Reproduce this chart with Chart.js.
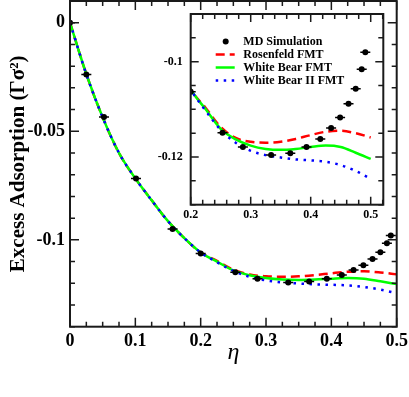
<!DOCTYPE html>
<html><head><meta charset="utf-8">
<script src="https://cdn.jsdelivr.net/npm/chart.js@4"></script>
<style>
html,body{margin:0;padding:0;background:#fff;}
#wrap{position:relative;width:409px;height:397px;overflow:hidden;}
canvas{position:absolute;left:0;top:0;}
</style></head><body>
<div id="wrap"><canvas id="main" width="409" height="397"></canvas><canvas id="inset" width="409" height="397"></canvas></div>
<script>
// ---------------- data ----------------
const etaMD = [0, 0.025, 0.052, 0.101, 0.157, 0.2, 0.253, 0.287, 0.334, 0.366, 0.393, 0.416, 0.434, 0.449, 0.463, 0.475, 0.485, 0.491];
const adsMD = [0, -0.0239, -0.0434, -0.0717, -0.0950, -0.1063, -0.1149, -0.1179, -0.1196, -0.1192, -0.1179, -0.1162, -0.1139, -0.1117, -0.1088, -0.1057, -0.1016, -0.0980];

const etaCurve = [0, 0.025, 0.05, 0.075, 0.1, 0.125, 0.15, 0.175, 0.2, 0.225, 0.25, 0.275, 0.3, 0.325, 0.35, 0.375, 0.4, 0.425, 0.45, 0.475, 0.5];
const rosenfeld = [0, -0.0237, -0.0436, -0.0600, -0.0717, -0.0818, -0.0914, -0.0992, -0.1058, -0.1097, -0.1137, -0.1160, -0.1168, -0.1170, -0.1168, -0.1162, -0.1154, -0.1147, -0.1145, -0.1150, -0.1159];
const whiteBear = [0, -0.0237, -0.0436, -0.0600, -0.0717, -0.0818, -0.0914, -0.0992, -0.1058, -0.1100, -0.1141, -0.1163, -0.1176, -0.1183, -0.1185, -0.1183, -0.1179, -0.1176, -0.1179, -0.1191, -0.1204];
const whiteBearII = [0, -0.0237, -0.0436, -0.0600, -0.0717, -0.0818, -0.0914, -0.0992, -0.1058, -0.1103, -0.1143, -0.1170, -0.1187, -0.1196, -0.1201, -0.1205, -0.1207, -0.1210, -0.1217, -0.1229, -0.1246];

const legendLabels = ['MD Simulation', 'Rosenfeld FMT', 'White Bear FMT', 'White Bear II FMT'];

const mainXTicks = [0, 0.1, 0.2, 0.3, 0.4, 0.5];
const mainXLabels = ['0', '0.1', '0.2', '0.3', '0.4', '0.5'];
const mainYTicks = [0, -0.05, -0.1];
const mainYLabels = ['0', '-0.05', '-0.1'];
const insetXTicks = [0.2, 0.3, 0.4, 0.5];
const insetXLabels = ['0.2', '0.3', '0.4', '0.5'];
const insetYTicks = [-0.1, -0.12];
const insetYLabels = ['-0.1', '-0.12'];

// ---------------- styles ----------------
const FONT = '"Liberation Serif", "Times New Roman", serif';
const RED = '#ff0000', GREEN = '#00ff00', BLUE = '#0000ff';
const lineStyles = [
  {color: '#000'},
  {color: RED, dash: [9, 5], width: 2.5},
  {color: GREEN, dash: [], width: 2.5},
  {color: BLUE, dash: [2.5, 5.5], width: 2.5}
];

const pts = (xs, ys) => xs.map((x, i) => ({x: x, y: ys[i]}));

function makeDatasets(dotR, barR) {
  return [
    {label: legendLabels[0], data: pts(etaMD, adsMD), showLine: false, pointRadius: dotR, pointBackgroundColor: '#000', pointBorderWidth: 0, order: 0},
    {label: legendLabels[0] + ' err', data: pts(etaMD, adsMD), showLine: false, pointStyle: 'line', pointRadius: barR, pointBorderColor: '#000', pointBorderWidth: 1.5, order: 0},
    {label: legendLabels[3], data: pts(etaCurve, whiteBearII), borderColor: BLUE, borderWidth: 2.5, borderDash: [2.5, 5.5], pointRadius: 0, cubicInterpolationMode: 'monotone', order: 1},
    {label: legendLabels[2], data: pts(etaCurve, whiteBear), borderColor: GREEN, borderWidth: 2.5, pointRadius: 0, cubicInterpolationMode: 'monotone', order: 2},
    {label: legendLabels[1], data: pts(etaCurve, rosenfeld), borderColor: RED, borderWidth: 2.5, borderDash: [9, 5], pointRadius: 0, cubicInterpolationMode: 'monotone', order: 3}
  ];
}

function frameTicks(o) {
  return {
    id: 'frameTicks',
    beforeDraw(chart) {
      if (!o.fillBg) return;
      const a = chart.chartArea, ctx = chart.ctx;
      ctx.save(); ctx.fillStyle = '#fff';
      ctx.fillRect(a.left, a.top, a.right - a.left, a.bottom - a.top);
      ctx.restore();
    },
    afterDraw(chart) {
      const a = chart.chartArea, ctx = chart.ctx;
      const xs = chart.scales.x, ys = chart.scales.y;
      ctx.save();
      ctx.strokeStyle = '#1a1a1a';
      ctx.lineWidth = o.tickWidth;
      const near = (v, arr) => arr.some(m => Math.abs(m - v) < 1e-7);
      for (let k = Math.ceil(xs.min / o.xMinor - 1e-6); k * o.xMinor <= xs.max + 1e-9; k++) {
        const v = k * o.xMinor;
        const len = near(v, o.xMajor) ? o.major : o.minor;
        const px = xs.getPixelForValue(v);
        ctx.beginPath();
        ctx.moveTo(px, a.bottom); ctx.lineTo(px, a.bottom - len);
        ctx.moveTo(px, a.top); ctx.lineTo(px, a.top + len);
        ctx.stroke();
      }
      for (let k = Math.ceil(ys.min / o.yMinor - 1e-6); k * o.yMinor <= ys.max + 1e-9; k++) {
        const v = k * o.yMinor;
        const len = near(v, o.yMajor) ? o.major : o.minor;
        const py = ys.getPixelForValue(v);
        ctx.beginPath();
        ctx.moveTo(a.left, py); ctx.lineTo(a.left + len, py);
        ctx.moveTo(a.right, py); ctx.lineTo(a.right - len, py);
        ctx.stroke();
      }
      ctx.lineWidth = o.frameWidth;
      ctx.strokeRect(a.left, a.top, a.right - a.left, a.bottom - a.top);
      ctx.restore();
    }
  };
}

const insetLegend = {
  id: 'insetLegend',
  afterDraw(chart) {
    const a = chart.chartArea, ctx = chart.ctx;
    ctx.save();
    ctx.font = 'bold 12px ' + FONT;
    ctx.textBaseline = 'middle';
    legendLabels.forEach((t, i) => {
      const y = a.top + 27.5 + 13 * i;
      const st = lineStyles[i];
      if (i === 0) {
        ctx.fillStyle = '#000';
        ctx.beginPath(); ctx.arc(a.left + 35, y, 3, 0, Math.PI * 2); ctx.fill();
      } else {
        ctx.strokeStyle = st.color; ctx.lineWidth = st.width; ctx.setLineDash(st.dash);
        ctx.beginPath(); ctx.moveTo(a.left + 25, y); ctx.lineTo(a.left + 44, y); ctx.stroke();
        ctx.setLineDash([]);
      }
      ctx.fillStyle = '#000';
      ctx.fillText(t, a.left + 52.6, y + 0.5);
    });
    ctx.restore();
  }
};

Chart.defaults.font.family = FONT;
Chart.defaults.color = '#000';

const fitX = h => s => { s.height = h; s.paddingLeft = 0; s.paddingRight = 0; };
const fitY = w => s => { s.width = w; s.paddingTop = 0; s.paddingBottom = 0; };

// ---------------- main chart ----------------
new Chart(document.getElementById('main'), {
  type: 'line',
  data: {datasets: makeDatasets(3, 5)},
  options: {
    responsive: false, animation: false, events: [],
    layout: {autoPadding: false, padding: {left: 0, right: 12.3, top: 1, bottom: 0}},
    plugins: {legend: {display: false}, tooltip: {enabled: false}},
    scales: {
      x: {
        type: 'linear', min: 0, max: 0.5,
        afterBuildTicks: s => { s.ticks = mainXTicks.map(v => ({value: v})); },
        afterFit: fitX(70.3),
        grid: {display: false, drawTicks: false},
        border: {display: false},
        ticks: {padding: 4, font: {size: 18, weight: 'bold'}, color: '#000', maxRotation: 0, autoSkip: false,
          callback: (v, i) => mainXLabels[i]},
        title: {display: true, text: 'η', font: {size: 24, style: 'italic'}, color: '#000', padding: {top: 0, bottom: 30}}
      },
      y: {
        type: 'linear', min: -0.14, max: 0.01,
        afterBuildTicks: s => { s.ticks = mainYTicks.map(v => ({value: v})); },
        afterFit: fitY(70),
        grid: {display: false, drawTicks: false},
        border: {display: false},
        ticks: {padding: 5, font: {size: 18, weight: 'bold'}, color: '#000', autoSkip: false,
          callback: (v, i) => mainYLabels[i]},
        title: {display: true, text: 'Excess Adsorption (Γσ²)', font: {size: 21, weight: 'bold'}, color: '#000', padding: {top: 6, bottom: 0}}
      }
    }
  },
  plugins: [frameTicks({xMinor: 0.025, xMajor: mainXTicks, yMinor: 0.01, yMajor: mainYTicks, major: 9, minor: 5, tickWidth: 1.5, frameWidth: 2})]
});

// ---------------- inset chart ----------------
const insetDatasets = makeDatasets(3, 5).map(d => Object.assign(d, {clip: 0}));
new Chart(document.getElementById('inset'), {
  type: 'line',
  data: {datasets: insetDatasets},
  options: {
    responsive: false, animation: false, events: [],
    layout: {autoPadding: false, padding: {left: 150.7, right: 25.7, top: 14, bottom: 172.3}},
    plugins: {legend: {display: false}, tooltip: {enabled: false}},
    scales: {
      x: {
        type: 'linear', min: 0.2, max: 0.521,
        afterBuildTicks: s => { s.ticks = insetXTicks.map(v => ({value: v})); },
        afterFit: fitX(20),
        grid: {display: false, drawTicks: false},
        border: {display: false},
        ticks: {padding: 3, font: {size: 12, weight: 'bold'}, color: '#000', maxRotation: 0, autoSkip: false,
          callback: (v, i) => insetXLabels[i]},
        title: {display: false}
      },
      y: {
        type: 'linear', min: -0.13, max: -0.09,
        afterBuildTicks: s => { s.ticks = insetYTicks.map(v => ({value: v})); },
        afterFit: fitY(40),
        grid: {display: false, drawTicks: false},
        border: {display: false},
        ticks: {padding: 8, font: {size: 12, weight: 'bold'}, color: '#000', autoSkip: false,
          callback: (v, i) => insetYLabels[i]},
        title: {display: false}
      }
    }
  },
  plugins: [frameTicks({fillBg: true, xMinor: 0.02, xMajor: insetXTicks, yMinor: 0.005, yMajor: insetYTicks, major: 8, minor: 5, tickWidth: 1.5, frameWidth: 2}), insetLegend]
});
</script>
</body></html>
